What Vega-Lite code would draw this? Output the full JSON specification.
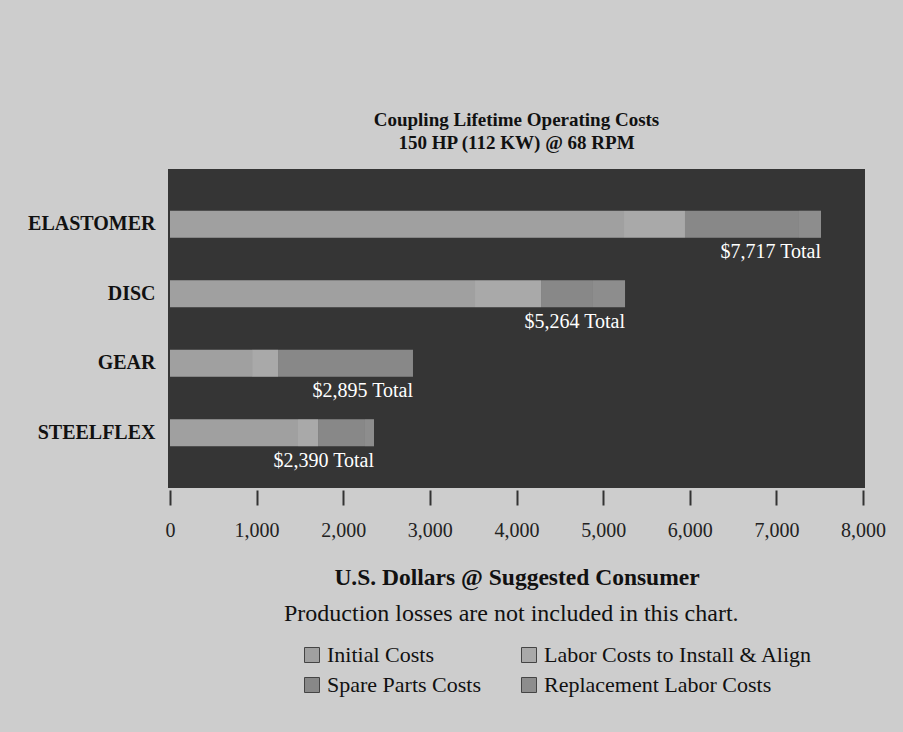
{
  "$schema": "https://vega.github.io/schema/vega-lite/v6.json",
  "width": 697,
  "height": 319,
  "autosize": {"type": "none"},
  "padding": {"left": 168, "top": 169, "right": 38, "bottom": 244},
  "background": "#cdcdcd",
  "config": {"view": {"fill": "#353535", "stroke": null}, "font": "Liberation Serif"},
  "title": {
    "text": "Coupling Lifetime Operating Costs",
    "subtitle": "150 HP (112 KW) @ 68 RPM",
    "fontSize": 19,
    "fontWeight": "bold",
    "color": "#111111",
    "subtitleFontSize": 19,
    "subtitleFontWeight": "bold",
    "subtitleColor": "#111111",
    "subtitleFont": "Liberation Serif",
    "subtitlePadding": 4,
    "anchor": "middle",
    "offset": 16
  },
  "data": {
    "values": [
      {"coupling": "ELASTOMER", "part": "Initial Costs", "seq": 1, "cost": 5241, "label": "$7,717 Total"},
      {"coupling": "ELASTOMER", "part": "Labor Costs to Install & Align", "seq": 2, "cost": 704, "label": "$7,717 Total"},
      {"coupling": "ELASTOMER", "part": "Spare Parts Costs", "seq": 3, "cost": 1316, "label": "$7,717 Total"},
      {"coupling": "ELASTOMER", "part": "Replacement Labor Costs", "seq": 4, "cost": 254, "label": "$7,717 Total"},
      {"coupling": "DISC", "part": "Initial Costs", "seq": 1, "cost": 3521, "label": "$5,264 Total"},
      {"coupling": "DISC", "part": "Labor Costs to Install & Align", "seq": 2, "cost": 762, "label": "$5,264 Total"},
      {"coupling": "DISC", "part": "Spare Parts Costs", "seq": 3, "cost": 600, "label": "$5,264 Total"},
      {"coupling": "DISC", "part": "Replacement Labor Costs", "seq": 4, "cost": 370, "label": "$5,264 Total"},
      {"coupling": "GEAR", "part": "Initial Costs", "seq": 1, "cost": 947, "label": "$2,895 Total"},
      {"coupling": "GEAR", "part": "Labor Costs to Install & Align", "seq": 2, "cost": 300, "label": "$2,895 Total"},
      {"coupling": "GEAR", "part": "Spare Parts Costs", "seq": 3, "cost": 1558, "label": "$2,895 Total"},
      {"coupling": "STEELFLEX", "part": "Initial Costs", "seq": 1, "cost": 1478, "label": "$2,390 Total"},
      {"coupling": "STEELFLEX", "part": "Labor Costs to Install & Align", "seq": 2, "cost": 231, "label": "$2,390 Total"},
      {"coupling": "STEELFLEX", "part": "Spare Parts Costs", "seq": 3, "cost": 542, "label": "$2,390 Total"},
      {"coupling": "STEELFLEX", "part": "Replacement Labor Costs", "seq": 4, "cost": 104, "label": "$2,390 Total"}
    ]
  },
  "encoding": {
    "y": {
      "field": "coupling",
      "type": "nominal",
      "scale": {"domain": ["ELASTOMER", "DISC", "GEAR", "STEELFLEX"], "paddingInner": 0.61, "paddingOuter": 0.6},
      "axis": {
        "title": null,
        "domain": false,
        "ticks": false,
        "labelFontSize": 20,
        "labelFontWeight": "bold",
        "labelColor": "#111111",
        "labelPadding": 13
      }
    }
  },
  "layer": [
    {
      "mark": {"type": "bar"},
      "encoding": {
        "x": {
          "field": "cost",
          "type": "quantitative",
          "stack": "zero",
          "scale": {"domain": [-23, 8023], "nice": false, "zero": false},
          "axis": {
            "values": [0, 1000, 2000, 3000, 4000, 5000, 6000, 7000, 8000],
            "format": ",.0f",
            "formatType": "number",
            "grid": false,
            "domain": false,
            "tickSize": 15,
            "tickWidth": 2,
            "tickColor": "#333333",
            "offset": 2,
            "labelFontSize": 20,
            "labelPadding": 15,
            "labelFlush": false,
            "labelColor": "#222222",
            "title": "U.S. Dollars @ Suggested Consumer",
            "titleFontSize": 23.5,
            "titleFontWeight": "bold",
            "titleColor": "#111111",
            "titlePadding": 25
          }
        },
        "color": {
          "field": "part",
          "type": "nominal",
          "scale": {
            "domain": ["Initial Costs", "Labor Costs to Install & Align", "Spare Parts Costs", "Replacement Labor Costs"],
            "range": ["#a0a0a0", "#a9a9a9", "#888888", "#8d8d8d"]
          },
          "legend": {
            "orient": "none",
            "legendX": 116,
            "legendY": 433,
            "direction": "horizontal",
            "columns": 2,
            "gridAlign": "none",
            "title": "Production losses are not included in this chart.",
            "titleFontSize": 24,
            "titleFontWeight": "normal",
            "titleColor": "#111111",
            "titleLimit": 700,
            "titlePadding": 18,
            "labelFontSize": 22,
            "labelColor": "#111111",
            "labelLimit": 500,
            "labelOffset": 4,
            "symbolType": "square",
            "symbolSize": 225,
            "symbolStrokeColor": "#444444",
            "symbolStrokeWidth": 1,
            "symbolOffset": 17,
            "columnPadding": 20,
            "rowPadding": 8
          }
        },
        "order": {"field": "seq", "type": "quantitative"}
      }
    },
    {
      "transform": [
        {"aggregate": [{"op": "sum", "field": "cost", "as": "total"}], "groupby": ["coupling", "label"]}
      ],
      "mark": {"type": "text", "align": "right", "baseline": "middle", "dy": 28, "color": "#ffffff", "fontSize": 20},
      "encoding": {
        "x": {"field": "total", "type": "quantitative"},
        "text": {"field": "label", "type": "nominal"}
      }
    }
  ]
}
